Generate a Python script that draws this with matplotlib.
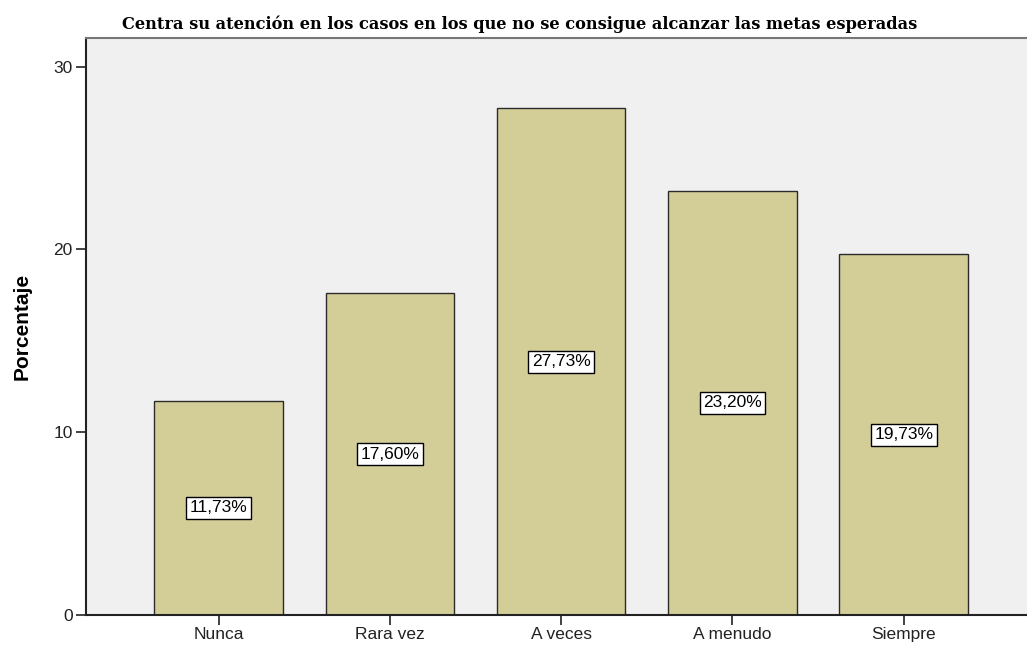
import matplotlib.pyplot as plt

# Frecuencias relativas por categoría
categorias = ['Nunca', 'Rara vez', 'A veces', 'A menudo', 'Siempre']
porcentajes = [11.73, 17.60, 27.73, 23.20, 19.73]
etiquetas = ['11,73%', '17,60%', '27,73%', '23,20%', '19,73%']

fig = plt.figure(figsize=(10.27, 6.45), dpi=100)
ax = fig.add_axes([0.0837, 0.0465, 0.9163, 0.8953])
ax.set_facecolor('#F0F0F0')

x = range(len(categorias))
barras = ax.bar(x, porcentajes, width=0.75, color='#D3CE98',
                edgecolor='#2b2b2b', linewidth=1.0, zorder=2)

# Etiquetas de valor en el centro de cada barra
for xi, v, txt in zip(x, porcentajes, etiquetas):
    ax.text(xi, v / 2, txt, ha='center', va='center', fontsize=12.5,
            family='Liberation Sans', color='black', zorder=3,
            bbox=dict(boxstyle='square,pad=0.2', facecolor='white',
                      edgecolor='black', linewidth=1.0))

ax.set_xlim(-0.775, 4.72)
ax.set_ylim(0, 31.59)
ax.set_yticks([0, 10, 20, 30])
ax.set_xticks(list(x))
ax.set_xticklabels(categorias, family='Liberation Sans', fontsize=12.5)
for lbl in ax.get_yticklabels():
    lbl.set_family('Liberation Sans')
    lbl.set_fontsize(12.5)

ax.tick_params(axis='both', direction='out', length=7.5, width=1.2,
               colors='#222222', labelcolor='#222222', pad=1)
ax.tick_params(axis='y', pad=2)

ax.spines['right'].set_visible(False)
ax.spines['top'].set_color('#777777')
ax.spines['top'].set_linewidth(1.5)
ax.spines['left'].set_linewidth(1.5)
ax.spines['bottom'].set_linewidth(1.5)
ax.spines['left'].set_color('#222222')
ax.spines['bottom'].set_color('#222222')

ax.set_ylabel('Porcentaje', family='Liberation Sans', fontsize=15,
              fontweight='bold', labelpad=16)

fig.text(0.506, 0.949,
         'Centra su atención en los casos en los que no se consigue alcanzar las metas esperadas',
         ha='center', va='bottom', family='DejaVu Serif', fontweight='bold',
         fontsize=11.7)

fig.savefig('out.png', dpi=100)
